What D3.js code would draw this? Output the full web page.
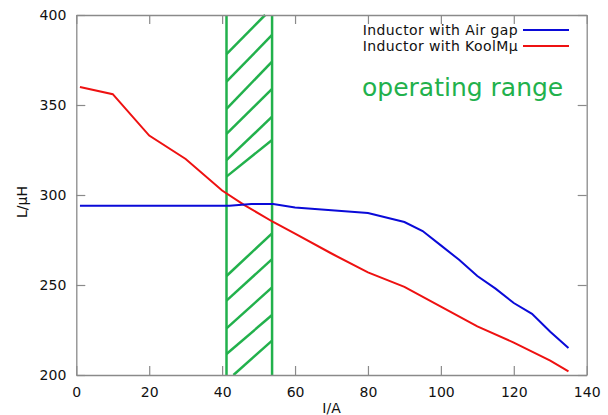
<!DOCTYPE html>
<html>
<head>
<meta charset="utf-8">
<script src="https://cdn.jsdelivr.net/npm/d3@7"></script>
<style>
  body { margin: 0; background: #fff; }
  text { font-family: "DejaVu Sans", Verdana, sans-serif; }
</style>
</head>
<body>
<script>
// curve data (I in A, L in uH)
const airGapI = [1, 42, 48, 54, 60, 70, 80, 90, 95, 100, 105, 110, 115, 120, 125, 130, 135];
const airGapL = [294, 294, 295, 295, 293, 291.5, 290, 285, 280, 272, 264, 255, 248, 240, 234, 224, 215];
const koolI = [1, 10, 20, 30, 40, 46, 54, 60, 70, 80, 90, 100, 110, 120, 130, 135];
const koolL = [360, 356, 333, 320, 302.5, 294.5, 285, 278.5, 267.5, 257, 249, 238, 227, 218, 208, 202];

const seriesNames = ['Inductor with Air gap', 'Inductor with KoolMμ'];
const xTicks = [0, 20, 40, 60, 80, 100, 120, 140];
const yTicks = [200, 250, 300, 350, 400];

// operating range band and its hand drawn hatch strokes [i1, l1, i2, l2]
const rangeI = [41.2, 53.7];
const hatch = [
  [41.2, 378.2, 51.8, 400], [41.2, 363.0, 53.7, 388.9], [41.2, 347.8, 53.7, 374.1],
  [41.2, 333.9, 53.7, 358.9], [41.2, 319.4, 53.7, 343.5], [41.2, 310.2, 53.7, 330.6],
  [41.2, 255.0, 53.7, 278.7], [41.2, 241.3, 53.7, 264.4], [41.2, 225.9, 53.7, 248.7],
  [41.2, 211.7, 53.7, 233.3], [43.1, 200.0, 53.7, 219.1]
];

const W = 608, H = 415;
const m = {top: 15, right: 21.3, bottom: 40, left: 76.3};
const green = '#22b14c';

const svg = d3.select('body').append('svg')
  .attr('width', W)
  .attr('height', H);

const x = d3.scaleLinear().domain([0, 140]).range([m.left, W - m.right]);
const y = d3.scaleLinear().domain([200, 400]).range([H - m.bottom, m.top]);

// hatch band
svg.append('g').selectAll('line')
  .data(hatch)
  .enter()
  .append('line')
  .attr('x1', d => x(d[0])).attr('y1', d => y(d[1]))
  .attr('x2', d => x(d[2])).attr('y2', d => y(d[3]))
  .attr('stroke', green)
  .attr('stroke-width', 2.5);

svg.append('g').selectAll('line')
  .data(rangeI)
  .enter()
  .append('line')
  .attr('x1', d => x(d)).attr('x2', d => x(d))
  .attr('y1', y(200)).attr('y2', y(400))
  .attr('stroke', green)
  .attr('stroke-width', 2.5);

// axes, ticks pointing inward on all four sides
svg.append('g')
  .attr('transform', `translate(0,${y(200)})`)
  .call(d3.axisBottom(x).tickValues(xTicks).tickSizeInner(-9).tickSizeOuter(0).tickPadding(12));
svg.append('g')
  .attr('transform', `translate(${x(0)},0)`)
  .call(d3.axisLeft(y).tickValues(yTicks).tickSizeInner(-9).tickSizeOuter(0).tickPadding(10));
svg.append('g')
  .attr('transform', `translate(0,${y(400)})`)
  .call(d3.axisTop(x).tickValues(xTicks).tickSizeInner(-9).tickSizeOuter(0).tickFormat(''));
svg.append('g')
  .attr('transform', `translate(${x(140)},0)`)
  .call(d3.axisRight(y).tickValues(yTicks).tickSizeInner(-9).tickSizeOuter(0).tickFormat(''));

svg.selectAll('.domain').attr('stroke', '#8a8a8a').attr('stroke-width', 1.3);
svg.selectAll('.tick line').attr('stroke', '#8a8a8a').attr('stroke-width', 1.2);
svg.selectAll('.tick text')
  .attr('font-family', '"DejaVu Sans", Verdana, sans-serif')
  .attr('font-size', 14)
  .attr('fill', '#111');

// curves
const line = d3.line().x(d => x(d[0])).y(d => y(d[1]));
svg.append('path')
  .datum(koolI.map((v, i) => [v, koolL[i]]))
  .attr('d', line)
  .attr('fill', 'none')
  .attr('stroke', '#ee1111')
  .attr('stroke-width', 2);
svg.append('path')
  .datum(airGapI.map((v, i) => [v, airGapL[i]]))
  .attr('d', line)
  .attr('fill', 'none')
  .attr('stroke', '#0a0ad8')
  .attr('stroke-width', 2);

// legend
const legend = svg.append('g');
[['#0a0ad8', 30], ['#ee1111', 46]].forEach((s, i) => {
  legend.append('text')
    .attr('x', 518)
    .attr('y', s[1] + 5)
    .attr('text-anchor', 'end')
    .attr('font-size', 14)
    .attr('letter-spacing', 0.4)
    .attr('fill', '#111')
    .text(seriesNames[i]);
  legend.append('line')
    .attr('x1', 523).attr('x2', 569)
    .attr('y1', s[1]).attr('y2', s[1])
    .attr('stroke', s[0])
    .attr('stroke-width', 2);
});

svg.append('text')
  .attr('x', 362)
  .attr('y', 96)
  .attr('font-family', '"Liberation Sans", Arial, sans-serif')
  .attr('font-size', 25)
  .attr('fill', green)
  .text('operating range');

// axis titles
svg.append('text')
  .attr('x', x(70))
  .attr('y', 413)
  .attr('text-anchor', 'middle')
  .attr('font-size', 14)
  .attr('fill', '#111')
  .text('I/A');
svg.append('text')
  .attr('transform', 'translate(27,202) rotate(-90)')
  .attr('text-anchor', 'middle')
  .attr('font-size', 14)
  .attr('fill', '#111')
  .text('L/μH');
</script>
</body>
</html>
